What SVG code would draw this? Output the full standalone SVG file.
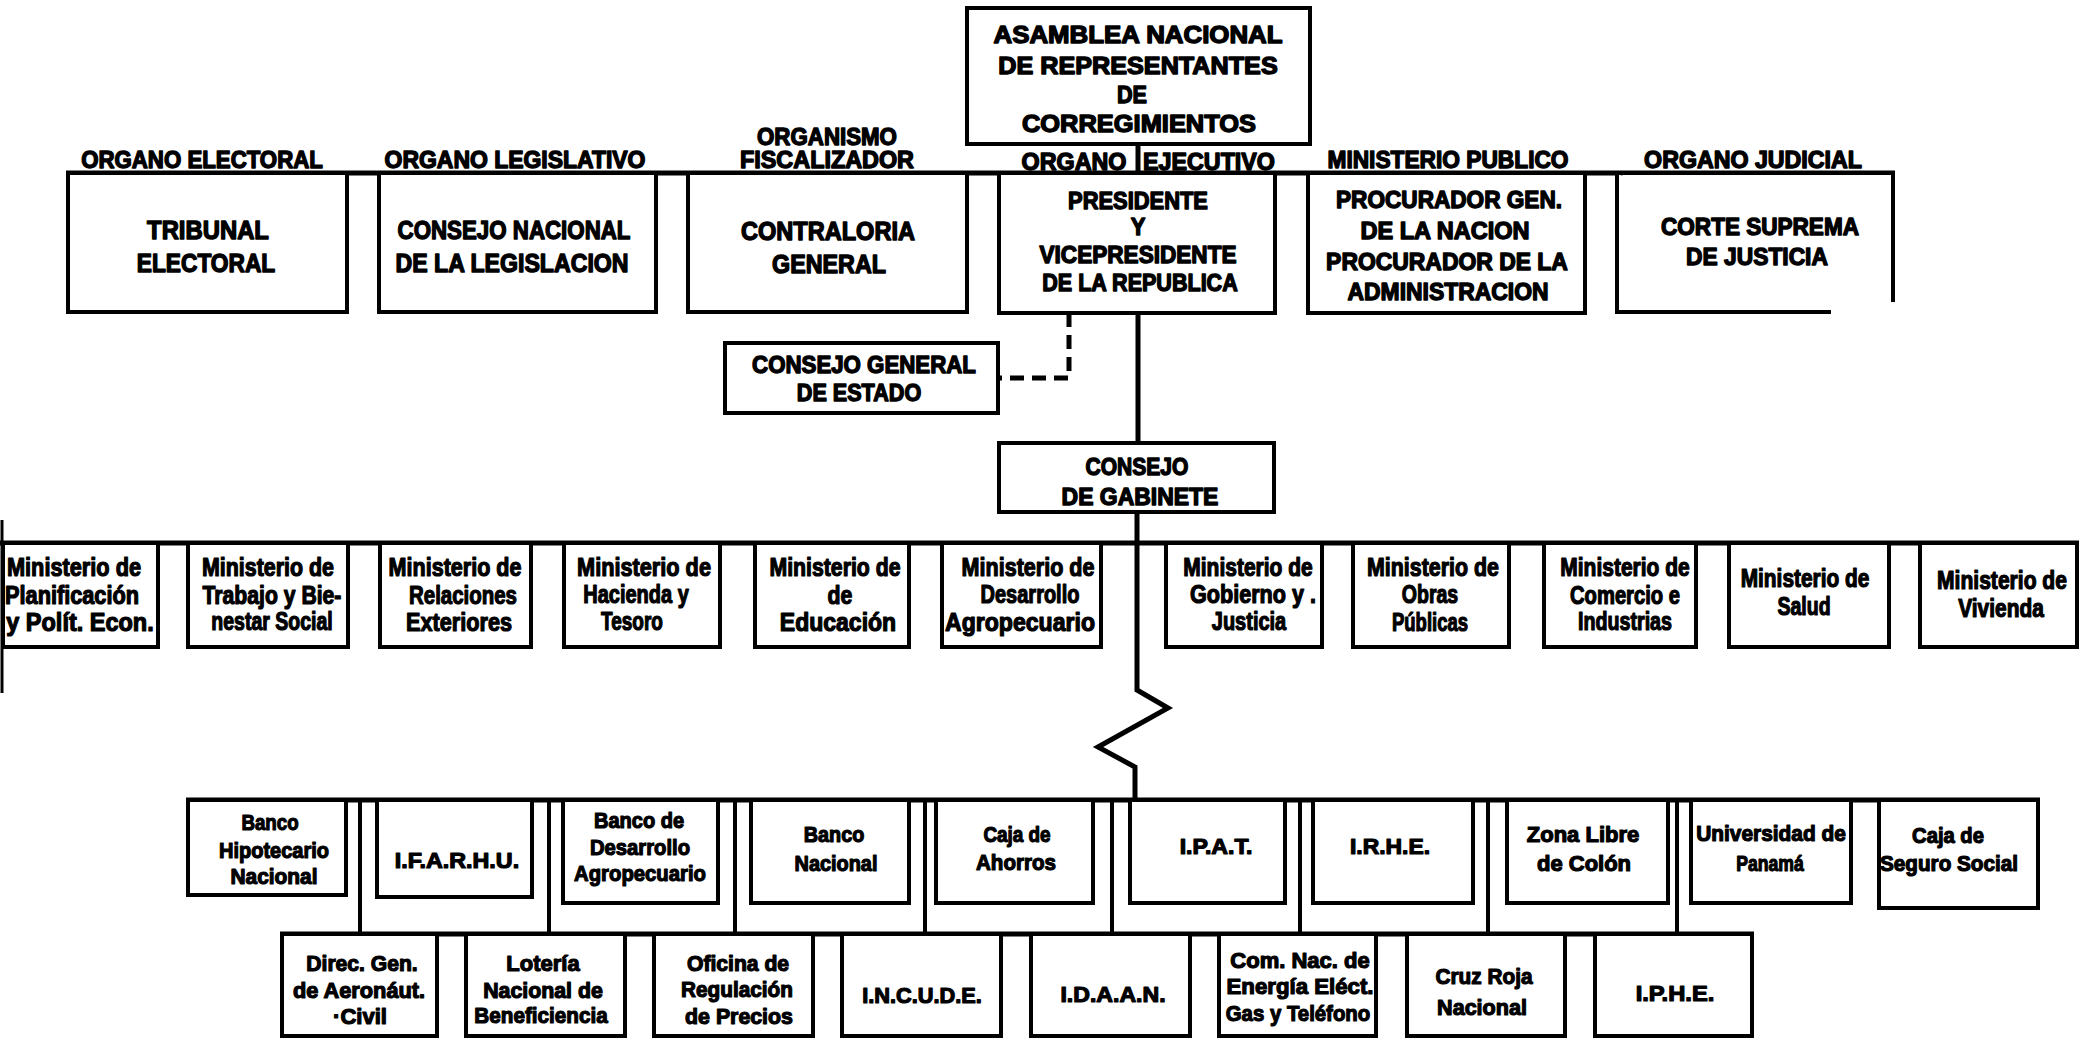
<svg xmlns="http://www.w3.org/2000/svg" width="2086" height="1039" viewBox="0 0 2086 1039">
<style>
.bg{fill:#fff}
.box{fill:#fff;stroke:#000;stroke-width:4}
.ln{fill:none;stroke:#000;stroke-width:5}
.dash{fill:none;stroke:#000;stroke-width:5;stroke-dasharray:14 8}
text{font-family:"Liberation Sans",Arial,sans-serif;font-weight:bold;fill:#000;stroke:#000;stroke-linejoin:round;text-anchor:middle;dominant-baseline:central}
.hd{font-size:24px;stroke-width:1.4px}
.bx{font-size:26px;stroke-width:1.4px}
.mi{font-size:25px;stroke-width:1.2px}
.sm{font-size:22px;stroke-width:1.2px}
</style>
<rect class="bg" x="0" y="0" width="2086" height="1039"/>

<g id="connectors">
  <line class="ln" x1="1138" y1="144" x2="1138" y2="173"/>
  <line class="ln" x1="66" y1="173" x2="1895" y2="173"/>
  <line class="ln" x1="1138" y1="313" x2="1138" y2="443"/>
  <path class="dash" d="M1069 313 V378 H998"/>
  <path class="ln" d="M1137 512 V690 L1168 708 L1098 747 L1135 767 V802"/>
  <line class="ln" x1="0" y1="543" x2="2079" y2="543"/>
  <line class="ln" style="stroke-width:3" x1="2" y1="520" x2="2" y2="693"/>
  <line class="ln" x1="186" y1="800" x2="2040" y2="800"/>
  <path class="ln" style="stroke-width:4" d="M360 800 V934 M549 800 V934 M735 800 V934 M925 800 V934 M1112 800 V934 M1300 800 V934 M1488 800 V934 M1677 800 V934"/>
  <line class="ln" x1="280" y1="934" x2="1754" y2="934"/>
</g>

<g id="asamblea">
  <rect class="box" x="967" y="8" width="343" height="136"/>
  <text class="hd" transform="translate(1138 0) scale(1.077 1)" x="0" y="34">ASAMBLEA NACIONAL</text>
  <text class="hd" transform="translate(1138 0) scale(1.05 1)" x="0" y="66">DE REPRESENTANTES</text>
  <text class="hd" transform="translate(1132 0) scale(0.9 1)" x="0" y="95">DE</text>
  <text class="hd" transform="translate(1139 0) scale(1.06 1)" x="0" y="124">CORREGIMIENTOS</text>
</g>

<g id="headers">
  <text class="hd" transform="translate(202 0) scale(0.927 1)" x="0" y="160">ORGANO ELECTORAL</text>
  <text class="hd" transform="translate(515 0) scale(0.957 1)" x="0" y="160">ORGANO LEGISLATIVO</text>
  <text class="hd" transform="translate(827 0) scale(0.929 1)" x="0" y="137">ORGANISMO</text>
  <text class="hd" transform="translate(827 0) scale(0.974 1)" x="0" y="160">FISCALIZADOR</text>
  <text class="hd" transform="translate(1074 0) scale(0.972 1)" x="0" y="162">ORGANO</text>
  <text class="hd" transform="translate(1209 0) scale(0.97 1)" x="0" y="162">EJECUTIVO</text>
  <text class="hd" transform="translate(1448 0) scale(0.947 1)" x="0" y="160">MINISTERIO PUBLICO</text>
  <text class="hd" transform="translate(1753 0) scale(0.967 1)" x="0" y="160">ORGANO JUDICIAL</text>
</g>

<g id="tribunal">
  <rect class="box" x="68" y="173" width="279" height="139"/>
  <text class="bx" transform="translate(208 0) scale(0.918 1)" x="0" y="230">TRIBUNAL</text>
  <text class="bx" transform="translate(206 0) scale(0.875 1)" x="0" y="263">ELECTORAL</text>
</g>
<g id="consejo-nacional">
  <rect class="box" x="379" y="173" width="277" height="139"/>
  <text class="bx" transform="translate(514 0) scale(0.858 1)" x="0" y="230">CONSEJO NACIONAL</text>
  <text class="bx" transform="translate(512 0) scale(0.89 1)" x="0" y="263">DE LA LEGISLACION</text>
</g>
<g id="contraloria">
  <rect class="box" x="688" y="173" width="279" height="139"/>
  <text class="bx" transform="translate(828 0) scale(0.906 1)" x="0" y="231">CONTRALORIA</text>
  <text class="bx" transform="translate(829 0) scale(0.897 1)" x="0" y="264">GENERAL</text>
</g>
<g id="presidente">
  <rect class="box" x="999" y="173" width="276" height="140"/>
  <text class="hd" transform="translate(1138 0) scale(0.913 1)" x="0" y="201">PRESIDENTE</text>
  <text class="hd" transform="translate(1138 0) scale(0.92 1)" x="0" y="227">Y</text>
  <text class="hd" transform="translate(1138 0) scale(0.941 1)" x="0" y="255">VICEPRESIDENTE</text>
  <text class="hd" transform="translate(1140 0) scale(0.898 1)" x="0" y="283">DE LA REPUBLICA</text>
</g>
<g id="procurador">
  <rect class="box" x="1308" y="173" width="277" height="140"/>
  <text class="hd" transform="translate(1449 0) scale(0.942 1)" x="0" y="200">PROCURADOR GEN.</text>
  <text class="hd" transform="translate(1445 0) scale(0.981 1)" x="0" y="230">DE LA NACION</text>
  <text class="hd" transform="translate(1447 0) scale(0.955 1)" x="0" y="262">PROCURADOR DE LA</text>
  <text class="hd" transform="translate(1448 0) scale(0.955 1)" x="0" y="292">ADMINISTRACION</text>
</g>
<g id="corte-suprema">
  <path class="box" d="M1617 173 H1893 V302 M1617 173 V312 H1831"/>
  <text class="hd" transform="translate(1760 0) scale(0.94 1)" x="0" y="227">CORTE SUPREMA</text>
  <text class="hd" transform="translate(1757 0) scale(0.95 1)" x="0" y="257">DE JUSTICIA</text>
</g>

<g id="consejo-general">
  <rect class="box" x="725" y="343" width="273" height="70"/>
  <text class="hd" transform="translate(864 0) scale(0.928 1)" x="0" y="365">CONSEJO GENERAL</text>
  <text class="hd" transform="translate(859 0) scale(0.9 1)" x="0" y="393">DE ESTADO</text>
</g>
<g id="consejo-gabinete">
  <rect class="box" x="999" y="443" width="275" height="69"/>
  <text class="hd" transform="translate(1137 0) scale(0.877 1)" x="0" y="467">CONSEJO</text>
  <text class="hd" transform="translate(1140 0) scale(0.957 1)" x="0" y="497">DE GABINETE</text>
</g>

<g id="min-planificacion">
  <rect class="box" x="3" y="543" width="155" height="104"/>
  <text class="mi" transform="translate(74 0) scale(0.87 1)" x="0" y="567">Ministerio de</text>
  <text class="mi" transform="translate(72 0) scale(0.869 1)" x="0" y="595">Planificación</text>
  <text class="mi" transform="translate(80 0) scale(0.94 1)" x="0" y="622">y Polít. Econ.</text>
</g>
<g id="min-trabajo">
  <rect class="box" x="188" y="543" width="160" height="104"/>
  <text class="mi" transform="translate(268 0) scale(0.856 1)" x="0" y="567">Ministerio de</text>
  <text class="mi" transform="translate(272 0) scale(0.847 1)" x="0" y="595">Trabajo y Bie-</text>
  <text class="mi" transform="translate(272 0) scale(0.78 1)" x="0" y="622">nestar Social</text>
</g>
<g id="min-relaciones">
  <rect class="box" x="380" y="543" width="151" height="104"/>
  <text class="mi" transform="translate(455 0) scale(0.862 1)" x="0" y="567">Ministerio de</text>
  <text class="mi" transform="translate(463 0) scale(0.818 1)" x="0" y="595">Relaciones</text>
  <text class="mi" transform="translate(459 0) scale(0.867 1)" x="0" y="622">Exteriores</text>
</g>
<g id="min-hacienda">
  <rect class="box" x="564" y="543" width="156" height="104"/>
  <text class="mi" transform="translate(644 0) scale(0.869 1)" x="0" y="567">Ministerio de</text>
  <text class="mi" transform="translate(636 0) scale(0.8 1)" x="0" y="595">Hacienda y</text>
  <text class="mi" transform="translate(632 0) scale(0.76 1)" x="0" y="622">Tesoro</text>
</g>
<g id="min-educacion">
  <rect class="box" x="755" y="543" width="154" height="104"/>
  <text class="mi" transform="translate(835 0) scale(0.85 1)" x="0" y="567">Ministerio de</text>
  <text class="mi" transform="translate(840 0) scale(0.85 1)" x="0" y="595">de</text>
  <text class="mi" transform="translate(838 0) scale(0.92 1)" x="0" y="622">Educación</text>
</g>
<g id="min-agropecuario">
  <rect class="box" x="942" y="543" width="159" height="104"/>
  <text class="mi" transform="translate(1028 0) scale(0.862 1)" x="0" y="567">Ministerio de</text>
  <text class="mi" transform="translate(1030 0) scale(0.8 1)" x="0" y="595">Desarrollo</text>
  <text class="mi" transform="translate(1020 0) scale(0.923 1)" x="0" y="622">Agropecuario</text>
</g>
<g id="min-gobierno">
  <rect class="box" x="1166" y="543" width="156" height="104"/>
  <text class="mi" transform="translate(1248 0) scale(0.84 1)" x="0" y="567">Ministerio de</text>
  <text class="mi" transform="translate(1253 0) scale(0.864 1)" x="0" y="594">Gobierno y .</text>
  <text class="mi" transform="translate(1249 0) scale(0.8 1)" x="0" y="622">Justicia</text>
</g>
<g id="min-obras">
  <rect class="box" x="1353" y="543" width="156" height="104"/>
  <text class="mi" transform="translate(1433 0) scale(0.856 1)" x="0" y="567">Ministerio de</text>
  <text class="mi" transform="translate(1430 0) scale(0.78 1)" x="0" y="595">Obras</text>
  <text class="mi" transform="translate(1430 0) scale(0.74 1)" x="0" y="622">Públicas</text>
</g>
<g id="min-comercio">
  <rect class="box" x="1544" y="543" width="152" height="104"/>
  <text class="mi" transform="translate(1625 0) scale(0.84 1)" x="0" y="567">Ministerio de</text>
  <text class="mi" transform="translate(1625 0) scale(0.808 1)" x="0" y="595">Comercio e</text>
  <text class="mi" transform="translate(1625 0) scale(0.787 1)" x="0" y="622">Industrias</text>
</g>
<g id="min-salud">
  <rect class="box" x="1729" y="543" width="160" height="104"/>
  <text class="mi" transform="translate(1805 0) scale(0.835 1)" x="0" y="578">Ministerio de</text>
  <text class="mi" transform="translate(1804 0) scale(0.78 1)" x="0" y="607">Salud</text>
</g>
<g id="min-vivienda">
  <rect class="box" x="1920" y="543" width="157" height="104"/>
  <text class="mi" transform="translate(2002 0) scale(0.843 1)" x="0" y="580">Ministerio de</text>
  <text class="mi" transform="translate(2001 0) scale(0.836 1)" x="0" y="608">Vivienda</text>
</g>

<g id="banco-hipotecario">
  <rect class="box" x="188" y="800" width="158" height="95"/>
  <text class="sm" transform="translate(270 0) scale(0.85 1)" x="0" y="822">Banco</text>
  <text class="sm" transform="translate(274 0) scale(0.91 1)" x="0" y="850">Hipotecario</text>
  <text class="sm" transform="translate(274 0) scale(0.95 1)" x="0" y="877">Nacional</text>
</g>
<g id="ifarhu">
  <rect class="box" x="377" y="800" width="155" height="97"/>
  <text class="sm" transform="translate(457 0) scale(1.06 1)" x="0" y="860">I.F.A.R.H.U.</text>
</g>
<g id="banco-desarrollo">
  <rect class="box" x="563" y="800" width="155" height="103"/>
  <text class="sm" transform="translate(639 0) scale(0.91 1)" x="0" y="820">Banco de</text>
  <text class="sm" transform="translate(640 0) scale(0.92 1)" x="0" y="847">Desarrollo</text>
  <text class="sm" transform="translate(640 0) scale(0.923 1)" x="0" y="873">Agropecuario</text>
</g>
<g id="banco-nacional">
  <rect class="box" x="751" y="800" width="158" height="103"/>
  <text class="sm" transform="translate(834 0) scale(0.9 1)" x="0" y="834">Banco</text>
  <text class="sm" transform="translate(836 0) scale(0.905 1)" x="0" y="863">Nacional</text>
</g>
<g id="caja-ahorros">
  <rect class="box" x="936" y="800" width="157" height="103"/>
  <text class="sm" transform="translate(1017 0) scale(0.86 1)" x="0" y="834">Caja de</text>
  <text class="sm" transform="translate(1016 0) scale(0.935 1)" x="0" y="863">Ahorros</text>
</g>
<g id="ipat">
  <rect class="box" x="1130" y="800" width="155" height="103"/>
  <text class="sm" transform="translate(1216 0) scale(1.05 1)" x="0" y="847">I.P.A.T.</text>
</g>
<g id="irhe">
  <rect class="box" x="1313" y="800" width="160" height="103"/>
  <text class="sm" transform="translate(1390 0) scale(1.04 1)" x="0" y="847">I.R.H.E.</text>
</g>
<g id="zona-libre">
  <rect class="box" x="1507" y="800" width="161" height="103"/>
  <text class="sm" transform="translate(1583 0) scale(1 1)" x="0" y="834">Zona Libre</text>
  <text class="sm" transform="translate(1584 0) scale(1 1)" x="0" y="863">de Colón</text>
</g>
<g id="universidad">
  <rect class="box" x="1691" y="800" width="160" height="103"/>
  <text class="sm" transform="translate(1771 0) scale(0.95 1)" x="0" y="834">Universidad de</text>
  <text class="sm" transform="translate(1770 0) scale(0.8 1)" x="0" y="863">Panamá</text>
</g>
<g id="caja-seguro">
  <rect class="box" x="1879" y="800" width="159" height="108"/>
  <text class="sm" transform="translate(1948 0) scale(0.92 1)" x="0" y="835">Caja de</text>
  <text class="sm" transform="translate(1949 0) scale(0.94 1)" x="0" y="864">Seguro Social</text>
</g>

<g id="aeronautica">
  <rect class="box" x="282" y="934" width="155" height="102"/>
  <text class="sm" transform="translate(362 0) scale(0.96 1)" x="0" y="963">Direc. Gen.</text>
  <text class="sm" transform="translate(359 0) scale(0.99 1)" x="0" y="990">de Aeronáut.</text>
  <text class="sm" transform="translate(360 0) scale(1 1)" x="0" y="1016">·Civil</text>
</g>
<g id="loteria">
  <rect class="box" x="466" y="934" width="159" height="102"/>
  <text class="sm" transform="translate(543 0) scale(1 1)" x="0" y="963">Lotería</text>
  <text class="sm" transform="translate(543 0) scale(0.97 1)" x="0" y="990">Nacional de</text>
  <text class="sm" transform="translate(541 0) scale(0.94 1)" x="0" y="1016">Beneficiencia</text>
</g>
<g id="oficina-precios">
  <rect class="box" x="654" y="934" width="159" height="102"/>
  <text class="sm" transform="translate(738 0) scale(0.96 1)" x="0" y="963">Oficina de</text>
  <text class="sm" transform="translate(737 0) scale(0.944 1)" x="0" y="990">Regulación</text>
  <text class="sm" transform="translate(739 0) scale(0.97 1)" x="0" y="1016">de Precios</text>
</g>
<g id="incude">
  <rect class="box" x="842" y="934" width="159" height="102"/>
  <text class="sm" transform="translate(922 0) scale(0.99 1)" x="0" y="995">I.N.C.U.D.E.</text>
</g>
<g id="idaan">
  <rect class="box" x="1031" y="934" width="159" height="102"/>
  <text class="sm" transform="translate(1113 0) scale(1.05 1)" x="0" y="995">I.D.A.A.N.</text>
</g>
<g id="comision-energia">
  <rect class="box" x="1219" y="934" width="157" height="102"/>
  <text class="sm" transform="translate(1300 0) scale(1 1)" x="0" y="960">Com. Nac. de</text>
  <text class="sm" transform="translate(1300 0) scale(1.01 1)" x="0" y="987">Energía Eléct.</text>
  <text class="sm" transform="translate(1298 0) scale(0.926 1)" x="0" y="1013">Gas y Teléfono</text>
</g>
<g id="cruz-roja">
  <rect class="box" x="1407" y="934" width="158" height="102"/>
  <text class="sm" transform="translate(1484 0) scale(0.945 1)" x="0" y="977">Cruz Roja</text>
  <text class="sm" transform="translate(1482 0) scale(0.98 1)" x="0" y="1007">Nacional</text>
</g>
<g id="iphe">
  <rect class="box" x="1595" y="934" width="157" height="102"/>
  <text class="sm" transform="translate(1675 0) scale(1.08 1)" x="0" y="993">I.P.H.E.</text>
</g>
</svg>
